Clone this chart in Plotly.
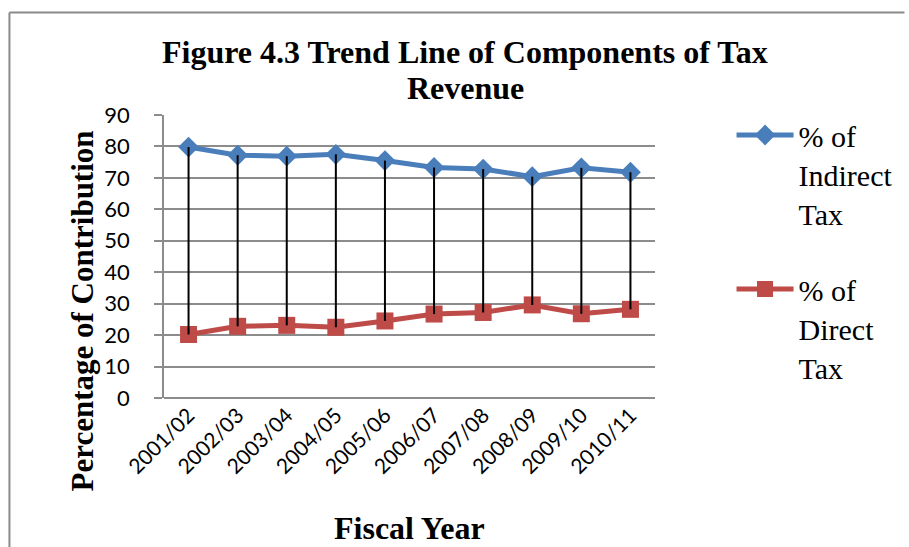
import plotly.graph_objects as go

# Fiscal years and the share (%) of each tax component in total tax revenue
years = ["2001/02", "2002/03", "2003/04", "2004/05", "2005/06",
         "2006/07", "2007/08", "2008/09", "2009/10", "2010/11"]
indirect_tax = [79.8, 77.2, 76.9, 77.5, 75.5, 73.3, 72.8, 70.4, 73.2, 71.8]
direct_tax = [20.2, 22.8, 23.1, 22.5, 24.5, 26.7, 27.2, 29.6, 26.8, 28.2]
y_ticks = [0, 10, 20, 30, 40, 50, 60, 70, 80, 90]

W, H = 909, 547
ML, MR, MT, MB = 164, 251, 115, 149
PW, PH = W - ML - MR, H - MT - MB

BLUE = "#4A7EBB"
RED = "#BE4B48"
GRID = "#8C8C8C"
SERIF = "Liberation Serif"
SANS = "Lato"


def px_x(p):
    return (p - ML) / PW


def px_y(p):
    return (H - MB - p) / PH


def label(text, x, y, size=32, angle=0):
    return dict(text=text, textangle=angle,
                xref="paper", yref="paper", x=px_x(x), y=px_y(y),
                xanchor="center", yanchor="middle", showarrow=False,
                font=dict(family=SERIF, size=size, color="black",
                          weight="bold"))


# high-low connectors between the two series for each year
hl_x, hl_y = [], []
for yr, hi, lo in zip(years, indirect_tax, direct_tax):
    hl_x += [yr, yr, None]
    hl_y += [hi, lo, None]

fig = go.Figure()
fig.add_trace(go.Scatter(
    x=years, y=indirect_tax, name="% of<br>Indirect<br>Tax",
    legendgroup="a", mode="lines+markers",
    line=dict(color=BLUE, width=5),
    marker=dict(symbol="diamond", size=16, color=BLUE),
))
fig.add_trace(go.Scatter(
    x=years, y=direct_tax, name="% of<br>Direct<br>Tax",
    legendgroup="b", mode="lines+markers",
    line=dict(color=RED, width=5),
    marker=dict(symbol="square", size=17, color=RED),
))
fig.add_trace(go.Scatter(
    x=hl_x, y=hl_y, mode="lines", showlegend=False, hoverinfo="skip",
    line=dict(color="black", width=2),
))

fig.update_layout(
    width=W, height=H,
    margin=dict(l=ML, r=MR, t=MT, b=MB),
    paper_bgcolor="white", plot_bgcolor="white",
    showlegend=True,
    legend=dict(
        x=px_x(735), y=px_y(109), xanchor="left", yanchor="top",
        font=dict(family=SERIF, size=30, color="black"),
        valign="top", tracegroupgap=34, itemwidth=57,
        maxheight=1.0,
        bgcolor="rgba(0,0,0,0)",
    ),
    xaxis=dict(
        type="category", range=[-0.5, len(years) - 0.5],
        showgrid=False, showline=False, ticks="",
        tickangle=-45, tickfont=dict(family=SANS, size=21, color="black"),
    ),
    yaxis=dict(
        range=[0, 90], tickvals=y_ticks,
        showgrid=True, gridcolor=GRID, gridwidth=1.5,
        zeroline=True, zerolinecolor=GRID, zerolinewidth=1.5,
        showline=True, linecolor=GRID, linewidth=1.5,
        ticks="outside", ticklen=8, tickcolor=GRID, tickwidth=1.5,
        ticklabelstandoff=20,
        tickfont=dict(family=SANS, size=22, color="black"),
    ),
    annotations=[
        label("Figure 4.3 Trend Line of Components of Tax", 467, 52),
        label("Revenue", 467, 88),
        label("Percentage of Contribution", 82, 311, size=31, angle=-90),
        label("Fiscal Year", 411, 528),
    ],
    shapes=[
        dict(type="line", xref="paper", yref="paper",
             x0=px_x(8.5), x1=px_x(8.5), y0=px_y(12.5), y1=px_y(H),
             line=dict(color="#8A8A8A", width=2)),
        dict(type="line", xref="paper", yref="paper",
             x0=px_x(8.5), x1=px_x(W), y0=px_y(12.5), y1=px_y(12.5),
             line=dict(color="#8A8A8A", width=2)),
    ],
)

fig.write_html("out.html")
